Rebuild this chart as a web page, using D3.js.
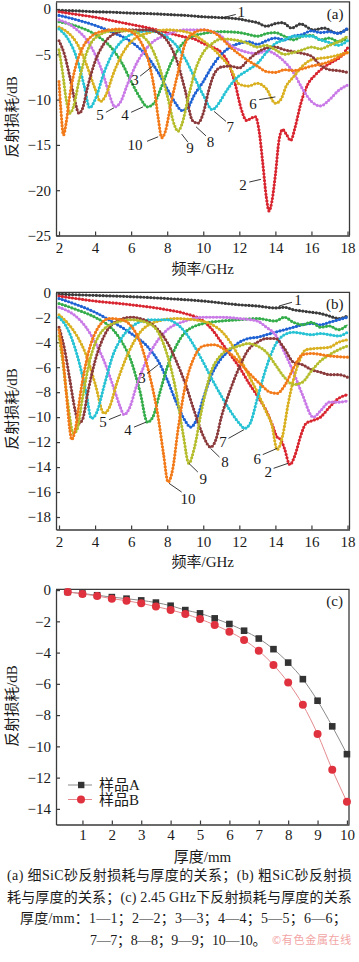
<!DOCTYPE html>
<meta charset="utf-8">
<style>
  body { margin: 0; background: #fff; }
  svg { display: block; }
</style>
<svg width="359" height="962"></svg>
<script src="https://d3js.org/d3.v7.min.js"></script>
<script>
  // ---------- data: panel (a) fine SiC, [GHz, dB] ----------
  var fine1 = [[2,-0.15],[3,-0.2],[4,-0.3],[5,-0.35],[6,-0.45],[7,-0.5],[8,-0.6],[9,-0.7],[10,-0.85],[11,-0.95],[11.5,-1.0],[12,-1.1],[12.5,-1.3],[13,-1.5],[13.5,-1.9],[14,-1.6],[14.4,-1.5],[14.9,-2.1],[15.4,-1.65],[16.1,-2.3],[16.7,-2.1],[17.4,-2.65],[18,-2.2]];
  var fine2 = [[2,-0.3],[3,-0.6],[4,-0.9],[5,-1.3],[6,-1.7],[7,-2.1],[8,-2.6],[9,-3.1],[9.5,-3.3],[10,-3.8],[10.5,-4.2],[11,-4.8],[11.5,-6.5],[11.8,-8.5],[12.1,-11],[12.4,-12.3],[12.7,-12],[12.9,-11.9],[13.1,-13.5],[13.3,-17],[13.5,-20.8],[13.65,-22.3],[13.8,-21.3],[14.0,-18.3],[14.2,-14.5],[14.4,-13.3],[14.6,-13.8],[14.85,-14.5],[15.1,-13],[15.4,-10.5],[15.8,-8.3],[16.2,-7.3],[16.7,-6.4],[17.2,-5.8],[17.6,-5.3],[18,-4.3]];
  var fine3 = [[2,-0.7],[3,-1.2],[4,-1.8],[5,-2.6],[6,-3.6],[7,-5.5],[7.5,-7],[8,-8.8],[8.5,-10.5],[8.8,-11.2],[9.1,-11],[9.5,-9.5],[10,-8],[10.5,-6.3],[11,-5],[11.5,-4.2],[12,-3.8],[12.5,-3.6],[13,-3.9],[13.5,-3.5],[14,-3.2],[14.5,-3.4],[15,-3],[15.5,-2.8],[16,-2.4],[16.5,-2.6],[17,-2.5],[17.5,-2.7],[18,-2.1]];
  var fine4 = [[2,-1.4],[3,-1.9],[4,-2.8],[5,-4.5],[5.5,-6],[6,-8],[6.5,-9.8],[6.9,-10.8],[7.3,-10.3],[7.7,-8.5],[8.2,-6],[8.7,-4.2],[9.2,-3.2],[10,-2.7],[11,-2.5],[12,-2.6],[12.5,-2.8],[13,-3.0],[13.5,-2.7],[14,-2.6],[14.5,-3.0],[15,-3.4],[15.5,-3.0],[16,-2.9],[16.5,-3.4],[17,-3.2],[17.5,-3.6],[18,-3.2]];
  var fine5 = [[2,-1.2],[2.5,-1.6],[3,-2.3],[3.5,-3.3],[4,-5],[4.5,-7.5],[4.8,-9.5],[5.1,-10.8],[5.4,-10.3],[5.8,-8.3],[6.3,-6],[7,-4],[8,-2.8],[9,-2.3],[10,-2.3],[10.5,-2.5],[11,-3],[11.5,-4],[12,-4.5],[12.5,-4.8],[13,-4.9],[13.5,-4.6],[14,-5.0],[14.5,-5.8],[15,-7],[15.5,-8.8],[16,-10.2],[16.5,-10.7],[17,-10],[17.5,-9],[18,-8.4]];
  var fine6 = [[2,-2.0],[2.5,-2.6],[3,-3.8],[3.5,-6],[4,-8.8],[4.3,-10.2],[4.6,-9.5],[5,-7.2],[5.5,-5],[6,-3.6],[7,-2.6],[8,-2.3],[9,-2.5],[10,-3.5],[10.5,-4.3],[11,-5.3],[11.5,-6.5],[12,-8.3],[12.5,-8.5],[13,-8.2],[13.5,-8.8],[14,-10.4],[14.3,-10.0],[14.6,-8.5],[15,-7.5],[15.5,-6.3],[16,-5.6],[17,-5.3],[18,-4.8]];
  var fine7 = [[2,-2.2],[2.5,-3.3],[3,-5.5],[3.4,-8.5],[3.7,-10.9],[4.0,-10],[4.5,-7],[5,-4.8],[5.5,-3.5],[6,-2.8],[7,-2.4],[7.5,-2.6],[8,-3.1],[8.5,-4],[9,-5.5],[9.5,-7.5],[10,-9.5],[10.5,-11.1],[10.9,-10.3],[11.2,-9.3],[11.8,-7.7],[12.5,-6.7],[13,-6],[13.5,-4.8],[14,-3.8],[14.5,-3.4],[15,-3.0],[16,-3.0],[16.5,-3.4],[17,-3.7],[17.5,-4.0],[18,-3.5]];
  var fine8 = [[2,-3.5],[2.3,-5],[2.6,-7.5],[2.9,-10.3],[3.1,-11.5],[3.3,-11],[3.6,-8.5],[4,-5.8],[4.5,-3.8],[5,-2.8],[6,-2.3],[7,-2.3],[7.5,-2.6],[8,-3.5],[8.5,-5.5],[9,-9],[9.4,-12.3],[9.7,-12.6],[10,-11.5],[10.3,-9],[10.6,-7.2],[11,-6.4],[11.5,-6.3],[12,-6.5],[12.5,-5.6],[13,-4.8],[13.5,-4.3],[14,-4.2],[14.5,-4.5],[15,-4.7],[15.5,-4.9],[16,-5.2],[16.5,-6.2],[17,-6.7],[17.5,-6.8],[18,-7]];
  var fine9 = [[2,-4.5],[2.2,-7],[2.4,-10],[2.6,-11.5],[2.8,-10.8],[3.1,-8],[3.5,-5],[4,-3.2],[5,-2.4],[6,-2.4],[6.5,-2.8],[7,-3.8],[7.5,-6],[8,-9.5],[8.4,-12.8],[8.6,-13.5],[8.8,-12.8],[9.2,-9.5],[9.6,-6.5],[10,-4.8],[10.5,-3.8],[11,-3.3],[12,-3.5],[12.5,-3.8],[13,-4.2],[13.5,-4.0],[14,-4.5],[14.5,-5],[15,-4.8],[15.5,-4.5],[16,-4.2],[16.5,-4.4],[17,-4.0],[17.5,-3.6],[18,-3.0]];
  var fine10 = [[2,-8],[2.1,-11],[2.25,-13.9],[2.4,-12.5],[2.6,-9.5],[2.9,-6.5],[3.3,-4.3],[3.8,-3],[4.5,-2.4],[5.5,-2.2],[6,-2.5],[6.5,-3.5],[7,-6],[7.3,-9],[7.5,-12],[7.7,-14.2],[7.9,-13.5],[8.2,-10.5],[8.6,-7],[9,-3.8],[9.5,-2.6],[10,-2.3],[10.5,-2.5],[11,-3.2],[11.5,-4.2],[12,-5],[12.5,-5.7],[13,-6.3],[13.5,-6.9],[14,-7.0],[14.5,-6.7],[15,-6.8],[15.5,-6.6],[16,-6.3],[16.5,-6.1],[17,-5.8],[17.5,-5.3],[18,-4.8]];

  // ---------- data: panel (b) coarse SiC ----------
  var coarse1 = [[2,-0.15],[4,-0.25],[6,-0.35],[8,-0.5],[10,-0.7],[12,-1.0],[13,-1.1],[14,-1.25],[14.5,-1.2],[15,-1.4],[15.5,-1.5],[16,-1.6],[16.5,-1.7],[17,-1.9],[17.5,-2.1],[18,-1.9]];
  var coarse2 = [[2,-0.3],[4,-0.7],[6,-1.0],[8,-1.4],[9,-1.7],[10,-2.3],[10.5,-3],[11,-4],[11.5,-5],[12,-6],[12.5,-7.2],[13,-8.3],[13.5,-9.5],[13.8,-10.5],[14.1,-11.6],[14.3,-11.8],[14.5,-12.5],[14.8,-13.8],[15.1,-13],[15.4,-11.5],[15.7,-10.5],[16,-10.3],[16.5,-10],[17,-9.2],[17.5,-8.5],[18,-8.2]];
  var coarse3 = [[2,-0.5],[3,-1],[4,-1.6],[5,-2.4],[6,-3.3],[7,-4.5],[7.5,-5.5],[8,-7],[8.5,-8.8],[9,-10.3],[9.3,-10.8],[9.6,-10.3],[10,-8.5],[10.5,-6.5],[11,-5.3],[11.5,-4.6],[12,-4],[12.5,-3.7],[13,-3.6],[13.5,-3.4],[14,-3.2],[14.5,-3.0],[15,-2.8],[15.5,-2.6],[16,-2.5],[16.5,-2.6],[17,-2.4],[17.5,-2.2],[18,-2.0]];
  var coarse4 = [[2,-0.9],[3,-1.4],[4,-2],[5,-3],[5.5,-4],[6,-5.5],[6.5,-8],[6.9,-10.4],[7.2,-10],[7.6,-8],[8,-6],[8.5,-4.3],[9,-3.2],[10,-2.5],[11,-2.3],[12,-2.2],[13,-2.1],[14,-2.3],[14.5,-2.0],[15,-2.4],[15.5,-2.6],[16,-2.4],[16.5,-2.8],[17,-2.7],[17.5,-3.0],[18,-2.6]];
  var coarse5 = [[2,-1.2],[3,-2],[3.5,-2.8],[4,-4],[4.5,-5.5],[5,-7.5],[5.4,-9.2],[5.6,-9.8],[5.9,-9.3],[6.3,-7.5],[7,-5],[7.5,-3.8],[8,-3],[9,-2.3],[10,-2.0],[11,-2.0],[12,-2.1],[13,-2.3],[13.5,-2.8],[14,-3.4],[14.5,-4.8],[15,-6.4],[15.5,-8.2],[16.1,-10.0],[16.5,-9.5],[17,-8.8],[17.5,-8.8],[18,-8.7]];
  var coarse6 = [[2,-1.8],[2.5,-2.5],[3,-3.5],[3.5,-5],[4,-7.3],[4.5,-9.7],[4.8,-9.2],[5.2,-7.3],[5.8,-5],[6.5,-3.2],[7.5,-2.3],[8.5,-2.1],[9.5,-2.2],[10.5,-2.6],[11,-3.1],[11.5,-4],[12,-5.2],[12.5,-6.6],[13,-8],[13.5,-9.6],[13.8,-10.6],[14.1,-12.6],[14.4,-11.5],[14.7,-9],[15,-7],[15.3,-5.6],[15.7,-4.6],[16.2,-4.5],[17,-4.4],[17.5,-4.0],[18,-3.8]];
  var coarse7 = [[2,-2],[2.5,-3],[3,-5],[3.5,-8],[3.8,-10.1],[4.1,-9.6],[4.5,-7.5],[5,-5],[5.5,-3.6],[6,-2.8],[7,-2.2],[8,-2.2],[8.5,-2.5],[9,-3.2],[9.5,-4.3],[10,-5.6],[10.5,-7],[11,-8.3],[11.5,-9.5],[12,-10.5],[12.3,-10.9],[12.6,-10.5],[13,-8.5],[13.5,-6],[14,-4.2],[14.5,-3.4],[15,-3.2],[15.5,-3.3],[16,-3.4],[16.5,-3.3],[17,-3.4],[17.5,-3.5],[18,-3.2]];
  var coarse8 = [[2,-2.8],[2.3,-4.5],[2.6,-7],[2.9,-9.5],[3.1,-10.5],[3.3,-10.2],[3.6,-8],[4,-5.5],[4.5,-3.5],[5,-2.5],[6,-2.0],[6.5,-2.1],[7,-2.4],[7.5,-3],[8,-4],[8.5,-5.5],[9,-7.3],[9.5,-9.5],[10,-11.5],[10.4,-12.4],[10.7,-11.8],[11,-10],[11.5,-7.8],[12,-6],[12.5,-4.6],[13,-4],[13.5,-3.7],[14,-3.7],[14.5,-4.5],[15,-5.6],[15.5,-5.8],[16,-6.2],[16.5,-6.4],[17,-6.6],[17.5,-6.6],[18,-6.8]];
  var coarse9 = [[2,-3.5],[2.2,-5.5],[2.5,-9],[2.8,-11.3],[3,-11],[3.3,-8.5],[3.7,-5.5],[4.2,-3.5],[5,-2.5],[6,-2.2],[7,-2.5],[7.5,-3.2],[8,-5],[8.5,-8],[8.9,-11.5],[9.2,-13.7],[9.5,-12.5],[9.9,-9.5],[10.4,-6.5],[11,-5],[11.5,-4.5],[12,-4.3],[12.5,-4.1],[13,-4.3],[13.5,-4.8],[14,-5.8],[14.5,-6.8],[15,-7.4],[15.5,-7.2],[16,-6.3],[16.5,-5.5],[17,-5],[17.5,-4.6],[18,-4.3]];
  var coarse10 = [[2,-3],[2.2,-5],[2.4,-8],[2.6,-11],[2.7,-11.8],[2.9,-11],[3.2,-8],[3.6,-5],[4.1,-3],[4.8,-2.1],[5.5,-2.2],[6,-2.7],[6.5,-4],[7,-6.5],[7.5,-10],[7.8,-13],[8.05,-15.2],[8.3,-14.2],[8.6,-11],[9,-7.5],[9.5,-5.2],[10,-4.3],[10.6,-4.2],[11.2,-4.6],[11.8,-5.3],[12.5,-6.4],[13.2,-7.4],[13.7,-8.0],[14.1,-8.1],[14.5,-7.5],[15.1,-5.8],[15.5,-5],[16,-4.9],[17,-5.1],[18,-5.2]];

  // ---------- data: panel (c) 2.45 GHz ----------
  var thickness = [0.5,1,1.5,2,2.5,3,3.5,4,4.5,5,5.5,6,6.5,7,7.5,8,8.5,9,9.5,10];
  var sampleA = [-0.12,-0.22,-0.33,-0.45,-0.55,-0.66,-0.8,-1.0,-1.28,-1.49,-1.81,-2.17,-2.6,-3.1,-3.78,-4.64,-5.7,-7.08,-8.72,-10.5];
  var sampleB = [-0.12,-0.25,-0.38,-0.55,-0.68,-0.85,-1.05,-1.27,-1.53,-1.85,-2.23,-2.66,-3.19,-3.89,-4.79,-5.92,-7.34,-9.21,-11.49,-13.55];

  var seriesColors = ["#3b3b3b","#d8252f","#1f62d4","#35ad4b","#c97ae6","#d9b020","#27c3d4","#8b3b3b","#b6bd2c","#f27a18"];
  var legendNames = ["样品A","样品B"];
  var captionLines = [
    "(a) 细SiC砂反射损耗与厚度的关系；(b) 粗SiC砂反射损",
    "耗与厚度的关系；(c) 2.45 GHz下反射损耗与厚度的关系",
    "厚度/mm：1—1；2—2；3—3；4—4；5—5；6—6；",
    "7—7；8—8；9—9；10—10。"
  ];
  var watermark = "©有色金属在线";
  // curve label [text, f, dB] and its leader [f1, dB1, f2, dB2]
  var fineLabels = [["1",12.1,-0.35,11.8,-0.6,11.0,-1.0],["2",12.2,-19.4,12.55,-19.1,13.2,-18.8],["3",6.22,-7.85,6.5,-7.4,7.2,-6.3],["4",5.66,-11.7,6.0,-11.4,6.66,-10.8],["5",4.27,-11.7,4.6,-11.4,5.05,-10.9],["6",12.76,-10.4,13.1,-10.0,14.0,-9.7],["7",11.5,-13.0,11.26,-12.4,10.6,-11.3],["8",10.4,-14.7,10.15,-14.0,9.6,-13.0],["9",9.27,-15.3,9.15,-14.7,8.8,-13.8],["10",6.22,-15.0,6.88,-14.6,7.5,-14.1]];
  var coarseLabels = [["1",15.26,-0.62,14.92,-0.8,14.2,-1.1],["2",13.6,-14.4,13.9,-14.1,14.7,-13.7],["3",6.6,-6.87,6.88,-6.5,7.5,-5.8],["4",5.83,-11.0,6.16,-10.8,6.83,-10.4],["5",4.44,-10.4,4.77,-10.2,5.44,-9.8],["6",13.0,-13.3,13.3,-13.0,14.1,-12.5],["7",11.1,-12.0,11.4,-11.7,12.26,-11.0],["8",11.2,-13.6,10.9,-13.2,10.4,-12.5],["9",10.0,-14.9,9.7,-14.4,9.2,-13.7],["10",9.15,-16.5,8.8,-16.0,8.1,-15.3]];

  var fineData = [fine1,fine2,fine3,fine4,fine5,fine6,fine7,fine8,fine9,fine10];
  var coarseData = [coarse1,coarse2,coarse3,coarse4,coarse5,coarse6,coarse7,coarse8,coarse9,coarse10];

  // ---------- drawing ----------
  var svg = d3.select("svg");
  var serif = '"Liberation Serif", "Times New Roman", "Noto Sans CJK SC", serif';
  var cjk = '"Noto Sans CJK SC", "Liberation Serif", sans-serif';
  var axisColor = "#3a3a3a";
  var minus = function(v) { return (v < 0 ? "\u2212" : "") + Math.abs(v); };

  svg.append("rect").attr("width", 359).attr("height", 962).attr("fill", "#fff");

  function frame(id, x, y, xTicks, yTicks, xPad, xTitle, xTitleY, yTitleY, tag) {
    var g = svg.append("g");
    var x0 = x.range()[0], x1 = x.range()[1], y0 = y.range()[0], y1 = y.range()[1];

    svg.append("clipPath").attr("id", id)
      .append("rect").attr("x", x0).attr("y", y1).attr("width", x1 - x0).attr("height", y0 - y1);

    var ax = g.append("g").attr("transform", "translate(0," + y0 + ")")
      .call(d3.axisBottom(x).tickValues(xTicks).tickSize(-4).tickSizeOuter(0).tickPadding(xPad).tickFormat(minus));
    var ay = g.append("g").attr("transform", "translate(" + x0 + ",0)")
      .call(d3.axisLeft(y).tickValues(yTicks).tickSize(-4).tickSizeOuter(0).tickPadding(5).tickFormat(minus));
    [ax, ay].forEach(function(a) {
      a.select(".domain").attr("stroke", axisColor).attr("stroke-width", 1.3);
      a.selectAll(".tick line").attr("stroke", axisColor).attr("stroke-width", 1.2);
      a.selectAll(".tick text").attr("fill", "#1a1a1a").style("font-family", serif).style("font-size", "15px");
    });
    g.append("path")
      .attr("d", "M" + x0 + "," + y1 + "H" + x1 + "V" + y0)
      .attr("fill", "none").attr("stroke", axisColor).attr("stroke-width", 1.3);

    g.append("text").attr("x", (x0 + x1) / 2).attr("y", xTitleY)
      .attr("text-anchor", "middle").attr("fill", "#1a1a1a")
      .style("font-family", serif).style("font-size", "15px").text(xTitle);
    g.append("text").attr("transform", "translate(17," + yTitleY + ") rotate(-90)")
      .attr("text-anchor", "middle").attr("fill", "#1a1a1a")
      .style("font-family", serif).style("font-size", "15px").text("反射损耗/dB");
    g.append("text").attr("x", x1 - 6).attr("y", y1 + 17).attr("text-anchor", "end")
      .attr("fill", "#1a1a1a").style("font-family", serif).style("font-size", "15px").text(tag);
    return g;
  }

  function spectra(id, x, y, series, labels) {
    var line = d3.line().x(function(d) { return x(d[0]); }).y(function(d) { return y(d[1]); })
      .curve(d3.curveMonotoneX);
    var g = svg.append("g").attr("clip-path", "url(#" + id + ")");
    var s = g.selectAll("g.curve").data(series).enter().append("g").attr("class", "curve");
    s.append("path").attr("d", line).attr("fill", "none")
      .attr("stroke", function(d, i) { return seriesColors[i]; }).attr("stroke-width", 1.3);
    // marker dots along each curve
    s.append("path").attr("d", line).attr("fill", "none")
      .attr("stroke", function(d, i) { return seriesColors[i]; }).attr("stroke-width", 3.2)
      .attr("stroke-linecap", "round").attr("stroke-dasharray", "0 3.4");

    var lg = svg.append("g");
    lg.selectAll("line").data(labels).enter().append("line")
      .attr("x1", function(d) { return x(d[3]); }).attr("y1", function(d) { return y(d[4]); })
      .attr("x2", function(d) { return x(d[5]); }).attr("y2", function(d) { return y(d[6]); })
      .attr("stroke", "#222").attr("stroke-width", 0.9);
    lg.selectAll("text").data(labels).enter().append("text")
      .attr("x", function(d) { return x(d[1]); }).attr("y", function(d) { return y(d[2]); })
      .attr("dy", "0.35em").attr("text-anchor", "middle").attr("fill", "#1a1a1a")
      .style("font-family", serif).style("font-size", "15px")
      .text(function(d) { return d[0]; });
  }

  // panel (a)
  var xa = d3.scaleLinear().domain([1.833, 18.11]).range([56, 349.5]);
  var ya = d3.scaleLinear().domain([-25, 0.8]).range([235.5, 1.8]);
  frame("clipA", xa, ya, [2,4,6,8,10,12,14,16,18], [0,-5,-10,-15,-20,-25], 7, "频率/GHz", 274, 117, "(a)");
  spectra("clipA", xa, ya, fineData, fineLabels);

  // panel (b)
  var xb = d3.scaleLinear().domain([1.833, 18.11]).range([56, 349.5]);
  var yb = d3.scaleLinear().domain([-19, 0]).range([529.5, 292.3]);
  frame("clipB", xb, yb, [2,4,6,8,10,12,14,16,18], [0,-2,-4,-6,-8,-10,-12,-14,-16,-18], 6.5, "频率/GHz", 567, 409, "(b)");
  spectra("clipB", xb, yb, coarseData, coarseLabels);

  // panel (c)
  var xc = d3.scaleLinear().domain([0.1, 10.07]).range([56, 349]);
  var yc = d3.scaleLinear().domain([-15, 0.05]).range([824.5, 589.3]);
  frame("clipC", xc, yc, [1,2,3,4,5,6,7,8,9,10], [0,-2,-4,-6,-8,-10,-12,-14], 5, "厚度/mm", 862, 706, "(c)");

  var ptsA = thickness.map(function(t, i) { return [t, sampleA[i]]; });
  var ptsB = thickness.map(function(t, i) { return [t, sampleB[i]]; });
  var lineC = d3.line().x(function(d) { return xc(d[0]); }).y(function(d) { return yc(d[1]); })
    .curve(d3.curveMonotoneX);
  var gc = svg.append("g");
  gc.append("path").attr("d", lineC(ptsA)).attr("fill", "none").attr("stroke", "#8a8a8a").attr("stroke-width", 1);
  gc.append("path").attr("d", lineC(ptsB)).attr("fill", "none").attr("stroke", "#e48a8f").attr("stroke-width", 1);
  gc.selectAll("rect.a").data(ptsA).enter().append("rect").attr("class", "a")
    .attr("x", function(d) { return xc(d[0]) - 3.3; }).attr("y", function(d) { return yc(d[1]) - 3.3; })
    .attr("width", 6.6).attr("height", 6.6).attr("fill", "#333");
  gc.selectAll("circle.b").data(ptsB).enter().append("circle").attr("class", "b")
    .attr("cx", function(d) { return xc(d[0]); }).attr("cy", function(d) { return yc(d[1]); })
    .attr("r", 4).attr("fill", "#e0323e");

  // legend
  var lgC = svg.append("g");
  [0, 1].forEach(function(i) {
    var ly = 785 + i * 14.5;
    lgC.append("line").attr("x1", 68).attr("x2", 92).attr("y1", ly).attr("y2", ly)
      .attr("stroke", i ? "#e48a8f" : "#8a8a8a").attr("stroke-width", 1);
    if (i) lgC.append("circle").attr("cx", 81).attr("cy", ly).attr("r", 4).attr("fill", "#e0323e");
    else lgC.append("rect").attr("x", 78).attr("y", ly - 3.2).attr("width", 6.4).attr("height", 6.4).attr("fill", "#333");
    lgC.append("text").attr("x", 99).attr("y", ly).attr("dy", "0.36em").attr("fill", "#1a1a1a")
      .style("font-family", serif).style("font-size", "15px").text(legendNames[i]);
  });

  // caption: justify each line by letter-spacing so it fills its width
  var cap = svg.append("g").style("font-family", serif).style("font-size", "14px").attr("fill", "#1a1a1a");
  var capX = [7, 7, 20, 90], capW = [345, 345, 327, 176], capY = [880, 902, 923, 945];
  captionLines.forEach(function(t, i) {
    var el = cap.append("text").attr("x", capX[i]).attr("y", capY[i]).text(t);
    var natural = el.node().getComputedTextLength();
    el.attr("letter-spacing", ((capW[i] - natural) / t.length).toFixed(2));
  });
  var wm = cap.append("text").attr("x", 272).attr("y", 944).attr("fill", "#f2a5a5")
    .style("font-family", cjk).style("font-size", "11px").text(watermark);
  wm.attr("letter-spacing", ((80 - wm.node().getComputedTextLength()) / watermark.length).toFixed(2));
</script>
